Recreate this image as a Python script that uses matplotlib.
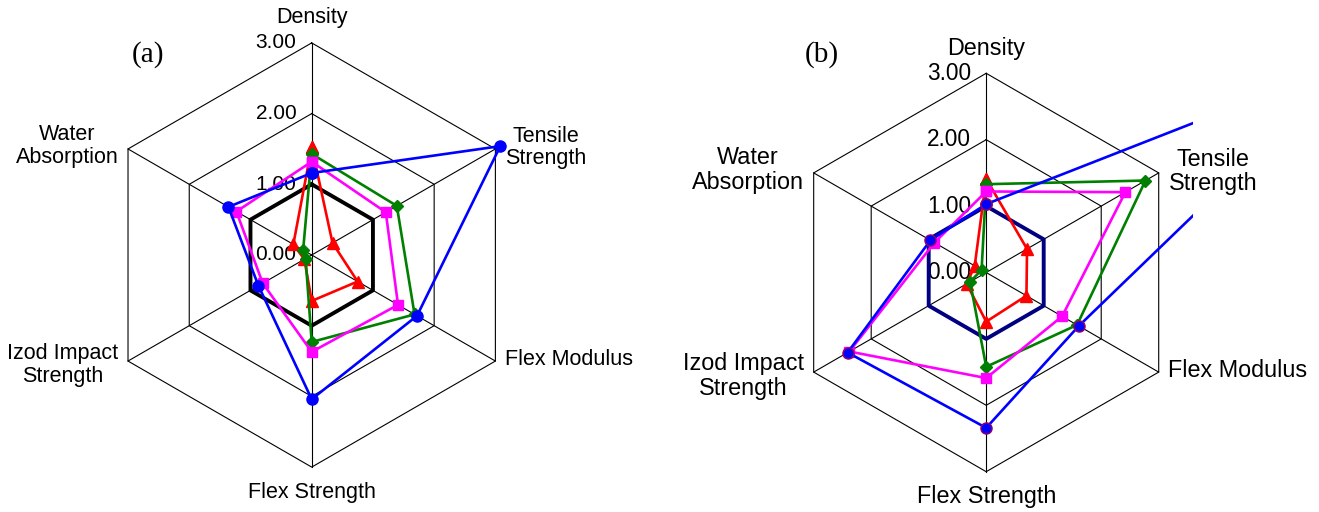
import numpy as np
import matplotlib.pyplot as plt

plt.rcParams['font.family'] = ['Liberation Sans', 'DejaVu Sans']

props = ['Density', 'Tensile\nStrength', 'Flex Modulus', 'Flex Strength',
         'Izod Impact\nStrength', 'Water\nAbsorption']
angles = np.deg2rad([90, 30, -30, -90, -150, 150])
levels = [0, 1, 2, 3]
level_labels = ['0.00', '1.00', '2.00', '3.00']

# (a) normalised properties
a_blue = [1.16, 3.08, 1.72, 2.04, 0.87, 1.36]
a_magenta = [1.32, 1.21, 1.41, 1.37, 0.80, 1.23]
a_green = [1.43, 1.39, 1.68, 1.23, 0.10, 0.14]
a_red = [1.53, 0.34, 0.75, 0.65, 0.12, 0.30]

# (b) normalised properties
b_blue = [1.03, 6.4, 1.61, 2.34, 2.41, 0.97]
b_magenta = [1.22, 2.42, 1.32, 1.59, 2.38, 0.90]
b_green = [1.33, 2.77, 1.58, 1.42, 0.28, 0.08]
b_red = [1.41, 0.71, 0.70, 0.74, 0.34, 0.20]

reference = [1, 1, 1, 1, 1, 1]

W, H = 1319, 512
fig = plt.figure(figsize=(W / 100, H / 100), dpi=100)


def to_xy(vals):
    v = np.asarray(vals, dtype=float)
    x = v * np.cos(angles)
    y = v * np.sin(angles)
    return np.append(x, x[0]), np.append(y, y[0])


def make_axes(left_px, right_px, cx, cy, unit):
    ax = fig.add_axes([left_px / W, 0, (right_px - left_px) / W, 1])
    ax.set_xlim((left_px - cx) / unit, (right_px - cx) / unit)
    ax.set_ylim(-(H - cy) / unit, cy / unit)
    ax.axis('off')
    return ax


def radar(ax, series, ref_color, tag, tag_pos, fs_num, fs_name):
    # hexagonal grid and spokes
    for lv in levels[1:]:
        gx, gy = to_xy([lv] * 6)
        ax.plot(gx, gy, color='black', lw=0.8, zorder=1)
    for a in angles:
        ax.plot([0, 3 * np.cos(a)], [0, 3 * np.sin(a)], color='black',
                lw=0.8, zorder=1)
    for lv, lab in zip(levels, level_labels):
        ax.annotate(lab, (0, lv), xytext=(-11, 0), textcoords='offset points',
                    ha='right', va='center', fontsize=fs_num, zorder=1)

    rx, ry = to_xy(reference)
    ax.plot(rx, ry, color=ref_color, lw=2.8, zorder=2)

    for vals, color, marker, ms, mec in series:
        x, y = to_xy(vals)
        ax.plot(x, y, color=color, lw=1.9, marker=marker, ms=ms,
                markeredgecolor=mec, zorder=3)

    # property names around the outer hexagon
    offsets = [(0, 18, 'center', 'center'), (7, 1, 'left', 'center'),
               (7, 1, 'left', 'center'), (0, -18, 'center', 'center'),
               (-7, -3, 'right', 'center'), (-7, 2, 'right', 'center')]
    for name, a, (dx, dy, ha, va) in zip(props, angles, offsets):
        ax.annotate(name, (3 * np.cos(a), 3 * np.sin(a)), xytext=(dx, dy),
                    textcoords='offset points', ha=ha, va=va,
                    multialignment='center', fontsize=fs_name,
                    linespacing=1.1, annotation_clip=False)

    ax.text(tag_pos[0], tag_pos[1], tag, transform=fig.transFigure,
            family='Liberation Serif', fontsize=21, ha='center', va='center')


ax_a = make_axes(0, 650, 311.7, 255, 70.7)
radar(ax_a, [
    (a_red, '#FF0000', '^', 8, '#FF0000'),
    (a_green, '#008000', 'D', 6, '#008000'),
    (a_magenta, '#FF00FF', 's', 7.5, '#FF00FF'),
    (a_blue, '#0000FF', 'o', 8, '#0000FF'),
], 'black', '(a)', (148 / W, 1 - 55 / H), 15, 15.5)

ax_b = make_axes(660, 1193, 986.2, 272.5, 66.4)
radar(ax_b, [
    (b_red, '#FF0000', '^', 8, '#FF0000'),
    (b_green, '#008000', 'D', 6, '#008000'),
    (b_magenta, '#FF00FF', 's', 7.5, '#FF00FF'),
    (b_blue, '#0000FF', 'o', 8, '#990066'),
], '#000080', '(b)', (822 / W, 1 - 55 / H), 16.3, 16.8)

fig.savefig('out.png', dpi=100)
